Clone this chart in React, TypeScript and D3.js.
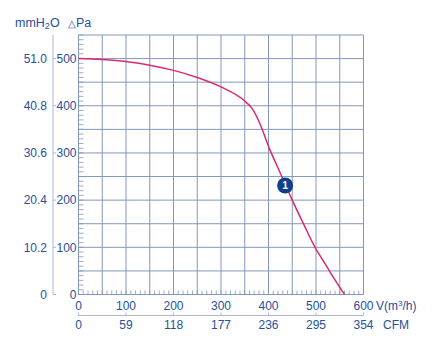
import React from 'react';
import * as d3 from 'd3';

// fan curve, airflow in m3/h and static pressure in Pa
const flow = [0, 50, 100, 150, 200, 250, 300, 350, 365, 382, 400, 425, 450, 474, 499, 515, 530, 560];
const pressure = [500, 498, 494, 486, 475, 460, 440, 410, 395, 362, 314, 257, 200, 149, 98, 72, 47, 0];

const paTicks = [0, 100, 200, 300, 400, 500];
const mmTicks = ['0', '10.2', '20.4', '30.6', '40.8', '51.0'];
const flowTicks = [0, 100, 200, 300, 400, 500, 600];
const cfmTicks = ['0', '59', '118', '177', '236', '295', '354'];

const marker = { flow: 435, pressure: 231, label: '1' };

const W = 433;
const H = 350;
const left = 78.5;
const right = 363.5;
const top = 35;
const bottom = 294.5;

const blue = '#27509a';
const grid = '#8397bb';
const curveColor = '#d82a72';
const font = '"Liberation Sans", Arial, sans-serif';

const App = () => {
  const x = d3.scaleLinear().domain([0, 600]).range([left, right]);
  const y = d3.scaleLinear().domain([0, 550]).range([bottom, top]);

  const pts: [number, number][] = flow.map((f, i) => [f, pressure[i]]);
  const line = d3.line<[number, number]>()
    .x(d => x(d[0]))
    .y(d => y(d[1]))
    .curve(d3.curveMonotoneX);

  const gridX = d3.range(0, 601, 50);
  const gridY = d3.range(0, 551, 50);
  const minorY = d3.range(0, 551, 10);
  const minorX = d3.range(0, 601, 10);
  const mmX = 53;
  const cfmY = 315.5;

  return (
    <svg width={W} height={H} style={{ position: 'absolute', left: 0, top: 0, background: '#fff' }}
      fontFamily={font}>
      {/* title */}
      <text x={15} y={27} fill={blue} fontSize={12.5}>
        mmH<tspan fontSize={9} dy={2}>2</tspan><tspan dy={-2}>O</tspan>
      </text>
      <text x={68} y={27} fill={blue} fontSize={12.5}>
        <tspan fontSize={10}>△</tspan>Pa
      </text>

      {/* grid */}
      {gridX.map(v => (
        <line key={'gx' + v} x1={x(v)} x2={x(v)} y1={top} y2={bottom} stroke={grid} strokeWidth={1} />
      ))}
      {gridY.map(v => (
        <line key={'gy' + v} x1={left} x2={right} y1={y(v)} y2={y(v)} stroke={grid} strokeWidth={1} />
      ))}

      {/* minor ticks */}
      {minorY.map(v => (
        <line key={'my' + v} x1={left} x2={left + 5} y1={y(v)} y2={y(v)} stroke={grid} strokeWidth={0.8} />
      ))}
      {minorX.map(v => (
        <line key={'mx' + v} x1={x(v)} x2={x(v)} y1={bottom} y2={bottom - 4} stroke={grid} strokeWidth={0.8} />
      ))}

      {/* Pa axis labels */}
      {paTicks.map(v => (
        <text key={'pa' + v} x={left - 2} y={y(v)} dy="0.35em" textAnchor="end" fill={blue} fontSize={12}>
          {v}
        </text>
      ))}

      {/* mmH2O axis */}
      <line x1={mmX} x2={mmX} y1={top} y2={bottom} stroke="#a9b8d2" strokeWidth={1} />
      {paTicks.map((v, i) => (
        <g key={'mm' + v}>
          <line x1={mmX} x2={mmX + 3} y1={y(v)} y2={y(v)} stroke="#a9b8d2" />
          <text x={mmX - 6} y={y(v)} dy="0.35em" textAnchor="end" fill={blue} fontSize={12}>
            {mmTicks[i]}
          </text>
        </g>
      ))}

      {/* flow axis labels */}
      {flowTicks.map(v => (
        <text key={'f' + v} x={x(v)} y={306} dy="0.35em" textAnchor="middle" fill={blue} fontSize={12}>
          {v}
        </text>
      ))}
      <text x={376} y={306} dy="0.35em" fill={blue} fontSize={12}>
        V(m<tspan fontSize={8} dy={-4}>3</tspan><tspan dy={4}>/h)</tspan>
      </text>

      {/* CFM axis */}
      <line x1={left} x2={right} y1={cfmY} y2={cfmY} stroke="#a9b8d2" strokeWidth={1.2} />
      {flowTicks.map((v, i) => (
        <g key={'c' + v}>
          <line x1={x(v)} x2={x(v)} y1={cfmY} y2={cfmY - 3} stroke="#a9b8d2" />
          <text x={x(v)} y={325} dy="0.35em" textAnchor="middle" fill={blue} fontSize={12}>
            {cfmTicks[i]}
          </text>
        </g>
      ))}
      <text x={383} y={325} dy="0.35em" fill={blue} fontSize={12}>CFM</text>

      {/* curve */}
      <path d={line(pts) || ''} fill="none" stroke={curveColor} strokeWidth={1.5} />

      {/* operating point */}
      <circle cx={x(marker.flow)} cy={y(marker.pressure)} r={8} fill="#0e3f8c" />
      <text x={x(marker.flow)} y={y(marker.pressure)} dy="0.36em" textAnchor="middle" fill="#fff"
        fontSize={10.5} fontWeight="bold">
        {marker.label}
      </text>
    </svg>
  );
};

export default App;
